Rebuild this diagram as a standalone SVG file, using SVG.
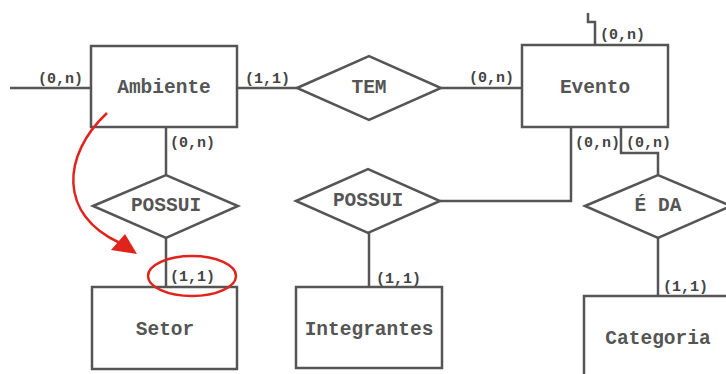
<svg xmlns="http://www.w3.org/2000/svg" width="726" height="374" viewBox="0 0 726 374">
<style>
.shape{fill:#fff;stroke:#555;stroke-width:2.5}
.ln{fill:none;stroke:#555;stroke-width:2.5}
.name{font-family:"Liberation Mono","DejaVu Sans Mono",monospace;font-weight:bold;font-size:19.5px;fill:#555;text-anchor:middle}
.card{font-family:"Liberation Mono","DejaVu Sans Mono",monospace;font-weight:bold;font-size:15px;fill:#444}
.red{fill:none;stroke:#e0241c;stroke-width:2.5}
</style>
<rect width="726" height="374" fill="#fff"/>
<g id="connectors">
<path class="ln" d="M10,88 H91"/>
<path class="ln" d="M237,88 H297"/>
<path class="ln" d="M441,88 H522"/>
<path class="ln" d="M588,13 V22 H595 V46"/>
<path class="ln" d="M571,127 V201 H440"/>
<path class="ln" d="M621,127 V153 H658 V175"/>
<path class="ln" d="M658,238 V296"/>
<path class="ln" d="M166,127 V175"/>
<path class="ln" d="M166,238 V287"/>
<path class="ln" d="M369,233 V287"/>
<text class="card" x="38" y="83">(0,n)</text>
<text class="card" x="245" y="83">(1,1)</text>
<text class="card" x="469" y="82">(0,n)</text>
<text class="card" x="600" y="39">(0,n)</text>
<text class="card" x="575" y="147">(0,n)</text>
<text class="card" x="626" y="147">(0,n)</text>
<text class="card" x="170" y="147">(0,n)</text>
<text class="card" x="170" y="281">(1,1)</text>
<text class="card" x="376" y="283">(1,1)</text>
<text class="card" x="663" y="291">(1,1)</text>
</g>
<g id="ambiente"><rect class="shape" x="91" y="46" width="146" height="81"/><text class="name" x="164" y="93">Ambiente</text></g>
<g id="tem"><polygon class="shape" points="297,88 369,56 441,88 369,120"/><text class="name" x="369" y="93">TEM</text></g>
<g id="evento"><rect class="shape" x="522" y="45" width="146" height="82"/><text class="name" x="595" y="93">Evento</text></g>
<g id="possui1"><polygon class="shape" points="93,206 166,175 238,206 166,238"/><text class="name" x="166" y="211">POSSUI</text></g>
<g id="possui2"><polygon class="shape" points="296,201 368,169 440,201 368,233"/><text class="name" x="368" y="206">POSSUI</text></g>
<g id="eda"><polygon class="shape" points="585,206 658,175 731,206 658,238"/><text class="name" x="658" y="211">É DA</text></g>
<g id="setor"><rect class="shape" x="92" y="287" width="145" height="82"/><text class="name" x="165" y="335">Setor</text></g>
<g id="integrantes"><rect class="shape" x="296" y="287" width="146" height="81"/><text class="name" x="369" y="335">Integrantes</text></g>
<g id="categoria"><rect class="shape" x="584" y="296" width="160" height="90"/><text class="name" x="658" y="344">Categoria</text></g>
<g id="annotation">
<path class="red" d="M107,113 C62,155 58,215 120,243"/>
<polygon points="137,254 111,250 125,234" fill="#e0241c"/>
<ellipse class="red" cx="192" cy="276" rx="44" ry="20"/>
</g>
</svg>
